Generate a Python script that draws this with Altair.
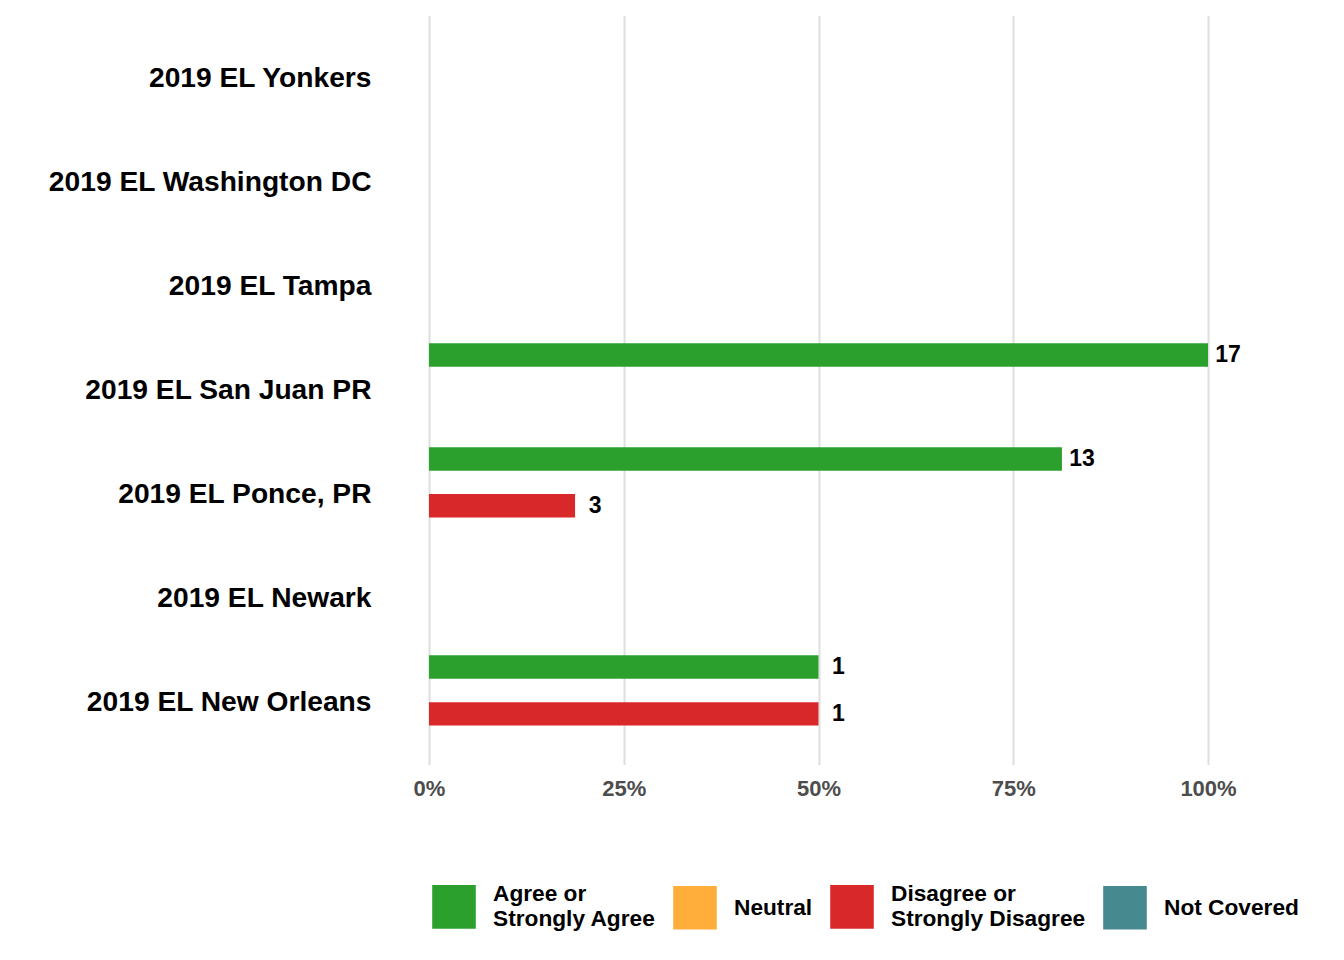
import altair as alt
import pandas as pd

locations = [
    "2019 EL Yonkers",
    "2019 EL Washington DC",
    "2019 EL Tampa",
    "2019 EL San Juan PR",
    "2019 EL Ponce, PR",
    "2019 EL Newark",
    "2019 EL New Orleans",
]
responses = ["Agree or Strongly Agree", "Neutral", "Disagree or Strongly Disagree", "Not Covered"]
colors = ["#2CA02C", "#FFAD3B", "#D8282A", "#468A90"]

# observed counts (location, response, count)
row_location = ["2019 EL San Juan PR", "2019 EL Ponce, PR", "2019 EL Ponce, PR",
                "2019 EL New Orleans", "2019 EL New Orleans"]
row_response = ["Agree or Strongly Agree", "Agree or Strongly Agree", "Disagree or Strongly Disagree",
                "Agree or Strongly Agree", "Disagree or Strongly Disagree"]
row_count = [17, 13, 3, 1, 1]

df = pd.DataFrame({"Location": row_location, "Response": row_response, "Count": row_count})
df["Pct"] = df["Count"] / df.groupby("Location")["Count"].transform("sum")

FONT = "Liberation Sans"

y_enc = alt.Y("Location:N", sort=locations,
              scale=alt.Scale(domain=locations, paddingInner=0.1, paddingOuter=0.15),
              axis=alt.Axis(title=None, ticks=False, domain=False, labelPadding=58,
                            labelOffset=1,
                            labelFontSize=28.2, labelFont=FONT, labelFontWeight="bold",
                            labelColor="#000000", labelLimit=500))
yoff_enc = alt.YOffset("Response:N", sort=responses,
                       scale=alt.Scale(domain=responses, paddingInner=0, paddingOuter=0))
x_enc = alt.X("Pct:Q", scale=alt.Scale(domain=[0, 1], nice=False),
              axis=alt.Axis(title=None, values=[0, 0.25, 0.5, 0.75, 1], format=".0%",
                            ticks=False, domain=False, grid=True, gridColor="#DEDEDE",
                            gridWidth=2, labelPadding=14, labelFlush=False,
                            labelFontSize=22, labelFont=FONT,
                            labelFontWeight="bold", labelColor="#4D4D4D"))

bars = alt.Chart(df).mark_bar().encode(
    x=x_enc,
    y=y_enc,
    yOffset=yoff_enc,
    color=alt.Color("Response:N", sort=responses,
                    scale=alt.Scale(domain=responses, range=colors),
                    legend=alt.Legend(title=None, orient="none", direction="horizontal",
                                      legendX=3, legendY=869, symbolType="square",
                                      symbolSize=1900, symbolStrokeWidth=0,
                                      labelFontSize=22.7, labelFont=FONT, labelFontWeight="bold",
                                      labelColor="#000000", labelOffset=17, columnPadding=17,
                                      labelLimit=400, padding=0,
                                      labelBaseline={"expr": "indexof(datum.label, ' or ') > 0 ? 'line-bottom' : 'middle'"},
                                      labelExpr="split(replace(datum.label, ' or ', ' or|'), '|')")),
)

labels = alt.Chart(df).mark_text(
    dx=20, align="center", baseline="middle", fontSize=23, font=FONT, fontWeight="bold",
    color="#000000"
).encode(
    x="Pct:Q",
    y=alt.Y("Location:N", sort=locations),
    yOffset=alt.YOffset("Response:N", sort=responses),
    text="Count:Q",
)

chart = alt.layer(bars, labels).properties(
    width=779, height=749,
    autosize=alt.AutoSizeParams(type="none"),
    padding={"left": 421, "top": 7.6, "right": 128, "bottom": 180},
).configure_view(stroke=None)

chart.save("out.html", embed_options={"renderer": "svg", "actions": False})
